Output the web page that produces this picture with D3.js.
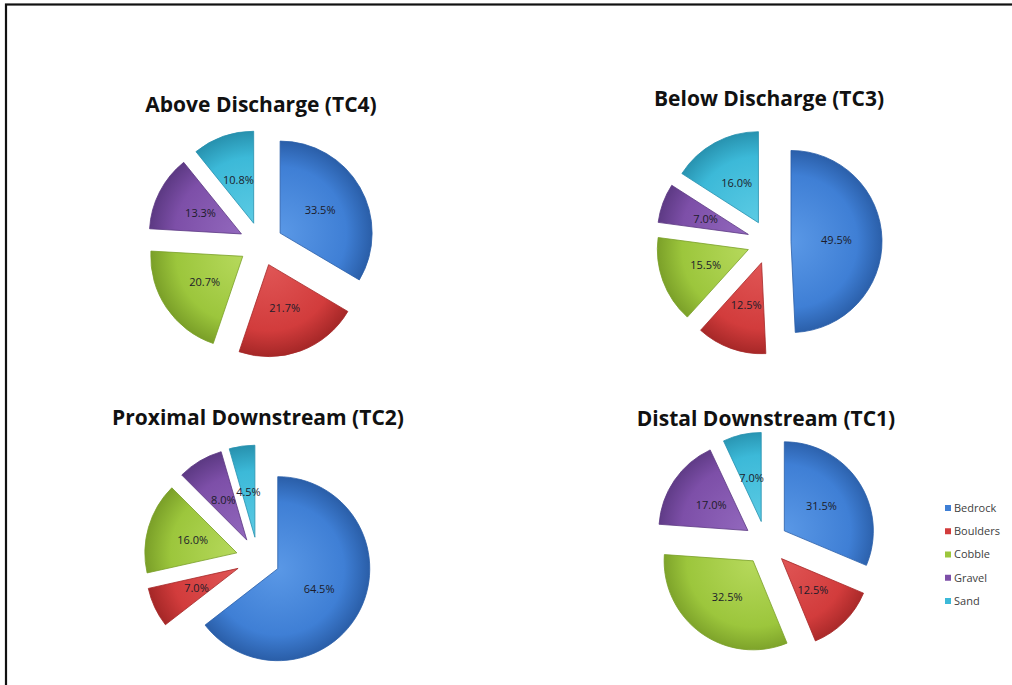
<!DOCTYPE html>
<html>
<head>
<meta charset="utf-8">
<script src="https://cdn.jsdelivr.net/npm/d3@7"></script>
<style>
  body { margin: 0; background: #fff; }
  svg { display: block; }
</style>
</head>
<body>
<svg id="chart"></svg>
<script>
// substrate composition per transect
var categories = ["Bedrock", "Boulders", "Cobble", "Gravel", "Sand"];
var chartTitles = ["Above Discharge (TC4)", "Below Discharge (TC3)",
                   "Proximal Downstream (TC2)", "Distal Downstream (TC1)"];
var tc4 = [33.5, 21.7, 20.7, 13.3, 10.8];
var tc3 = [49.5, 12.5, 15.5, 7.0, 16.0];
var tc2 = [64.5, 7.0, 16.0, 8.0, 4.5];
var tc1 = [31.5, 12.5, 32.5, 17.0, 7.0];
var seriesValues = [tc4, tc3, tc2, tc1];

var width = 1012, height = 685;

// where each pie sits
var layout = [
  {cx: 261, cy: 244, r: 92, ty: 112},
  {cx: 769, cy: 242, r: 91, ty: 106},
  {cx: 258, cy: 559, r: 92, ty: 425},
  {cx: 766, cy: 543, r: 89, ty: 426}
];
var explode = 22;

var colors = {
  Bedrock:  {light: "#5a98e6", base: "#3f7fd5", dark: "#2a5ea8"},
  Boulders: {light: "#e05656", base: "#d23c3c", dark: "#a52727"},
  Cobble:   {light: "#b6d95c", base: "#9cc63c", dark: "#7a9f28"},
  Gravel:   {light: "#9268bd", base: "#7d4fa8", dark: "#5c3983"},
  Sand:     {light: "#5ccbe4", base: "#3cb9d8", dark: "#2791ae"}
};

var svg = d3.select("#chart")
  .attr("width", width)
  .attr("height", height);

var defs = svg.append("defs");
categories.forEach(function(c, i) {
  var g = defs.append("radialGradient")
    .attr("id", "grad" + i)
    .attr("gradientUnits", "userSpaceOnUse")
    .attr("cx", 0).attr("cy", 0).attr("r", 92);
  g.append("stop").attr("offset", "0%").attr("stop-color", colors[c].light);
  g.append("stop").attr("offset", "72%").attr("stop-color", colors[c].base);
  g.append("stop").attr("offset", "100%").attr("stop-color", colors[c].dark);
});

// frame (only top and left edges fall inside the picture)
svg.append("rect")
  .attr("x", 6).attr("y", 4.5)
  .attr("width", 1100).attr("height", 1000)
  .attr("fill", "none")
  .attr("stroke", "#111")
  .attr("stroke-width", 2.2);

var pie = d3.pie().sort(null).value(function(d) { return d; });
var fmt = d3.format(".1f");

seriesValues.forEach(function(vals, k) {
  var L = layout[k];
  var arc = d3.arc().innerRadius(0).outerRadius(L.r);

  var g = svg.append("g")
    .attr("transform", "translate(" + L.cx + "," + L.cy + ")");

  var slices = g.selectAll("g.slice")
    .data(pie(vals))
    .enter().append("g")
    .attr("class", "slice")
    .attr("transform", function(d) {
      var a = (d.startAngle + d.endAngle) / 2;
      return "translate(" + (Math.sin(a) * explode) + "," + (-Math.cos(a) * explode) + ")";
    });

  slices.append("path")
    .attr("d", arc)
    .attr("fill", function(d, i) { return "url(#grad" + i + ")"; })
    .attr("stroke", function(d, i) { return colors[categories[i]].dark; })
    .attr("stroke-width", 0.8)
    .attr("stroke-linejoin", "round");

  slices.append("text")
    .attr("transform", function(d) { return "translate(" + arc.centroid(d) + ")"; })
    .attr("text-anchor", "middle")
    .attr("dy", "0.35em")
    .attr("font-family", "'Open Sans', sans-serif")
    .attr("font-size", 11)
    .attr("fill", "#1c1c2a")
    .text(function(d) { return fmt(d.data) + "%"; });

  svg.append("text")
    .attr("x", L.cx)
    .attr("y", L.ty)
    .attr("text-anchor", "middle")
    .attr("font-family", "'Open Sans', sans-serif")
    .attr("font-weight", 700)
    .attr("font-size", 21)
    .attr("fill", "#111")
    .text(chartTitles[k]);
});

// legend
var legendY = d3.scalePoint()
  .domain(categories)
  .range([508, 601]);

var legend = svg.append("g").attr("transform", "translate(945,0)");
var items = legend.selectAll("g")
  .data(categories)
  .enter().append("g")
  .attr("transform", function(d) { return "translate(0," + legendY(d) + ")"; });

items.append("rect")
  .attr("x", 0).attr("y", -3)
  .attr("width", 6).attr("height", 6)
  .attr("fill", function(d) { return colors[d].base; });

items.append("text")
  .attr("x", 9)
  .attr("dy", "0.35em")
  .attr("font-family", "'Open Sans', sans-serif")
  .attr("font-size", 11)
  .attr("fill", "#404040")
  .text(function(d) { return d; });
</script>
</body>
</html>
